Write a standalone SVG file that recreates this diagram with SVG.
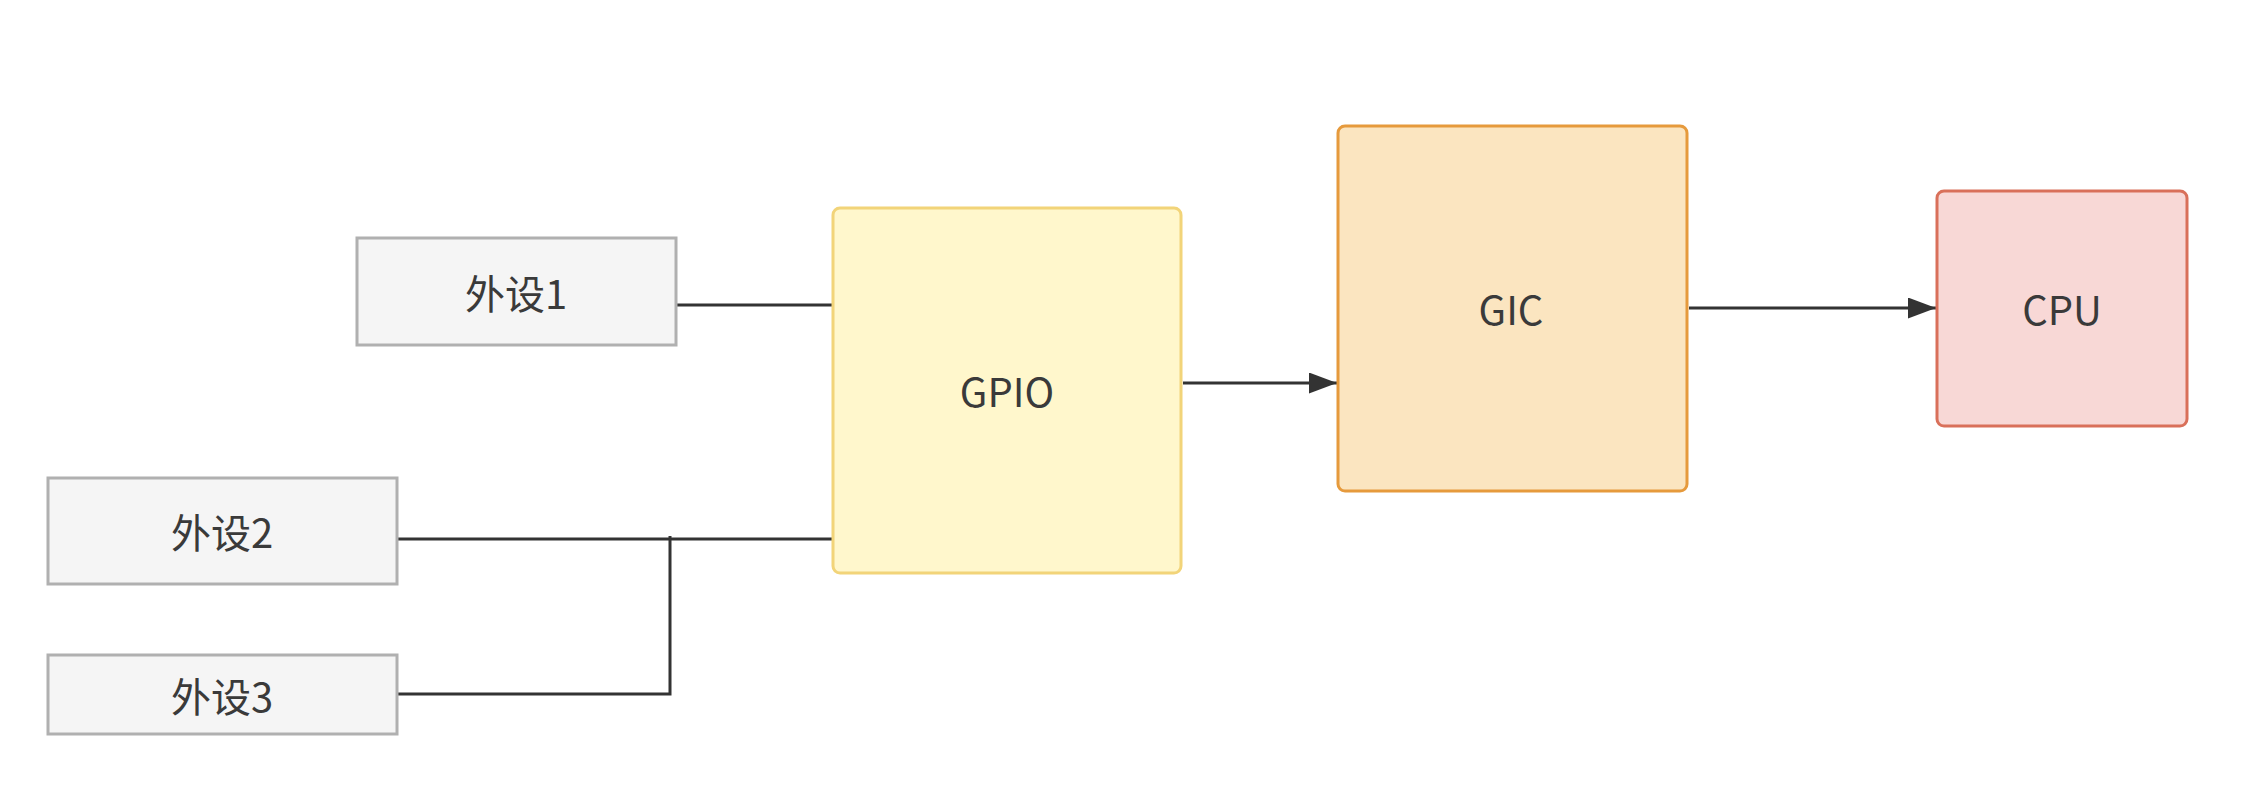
<svg xmlns="http://www.w3.org/2000/svg" width="2242" height="802" viewBox="0 0 2242 802">
<style>
.lbl{font-family:"Noto Sans CJK SC","Noto Sans",sans-serif;font-size:40px;fill:#3a3a3a;text-anchor:middle;dominant-baseline:central}
.gray{fill:#f5f5f5;stroke:#b0b0b0;stroke-width:3}
.conn{fill:none;stroke:#333;stroke-width:3}
</style>
<defs>
<marker id="arr" markerUnits="userSpaceOnUse" markerWidth="30" markerHeight="22" refX="28" refY="10.5" orient="auto">
<path d="M0,0 L28,10.5 L0,21 Z" fill="#333"/>
</marker>
</defs>
<rect width="2242" height="802" fill="#fff"/>
<g id="connectors">
<path class="conn" d="M676,305 H832"/>
<path class="conn" d="M397,539 H832"/>
<path class="conn" d="M397,694 H670 V536"/>
<path class="conn" d="M1183,383 H1337" marker-end="url(#arr)"/>
<path class="conn" d="M1689,308 H1936" marker-end="url(#arr)"/>
</g>
<g id="p1">
<rect class="gray" x="357" y="238" width="319" height="107"/>
<text class="lbl" x="516" y="292">外设1</text>
</g>
<g id="p2">
<rect class="gray" x="48" y="478" width="349" height="106"/>
<text class="lbl" x="222" y="531">外设2</text>
</g>
<g id="p3">
<rect class="gray" x="48" y="655" width="349" height="79"/>
<text class="lbl" x="222" y="695">外设3</text>
</g>
<g id="gpio">
<rect x="833" y="208" width="348" height="365" rx="7" fill="#fff7cc" stroke="#f2d479" stroke-width="3"/>
<text class="lbl" x="1007" y="390">GPIO</text>
</g>
<g id="gic">
<rect x="1338" y="126" width="349" height="365" rx="7" fill="#fbe5c0" stroke="#e69a3c" stroke-width="3"/>
<text class="lbl" x="1511" y="308">GIC</text>
</g>
<g id="cpu">
<rect x="1937" y="191" width="250" height="235" rx="7" fill="#f8d8d6" stroke="#d9705a" stroke-width="3"/>
<text class="lbl" x="2062" y="308">CPU</text>
</g>
</svg>
